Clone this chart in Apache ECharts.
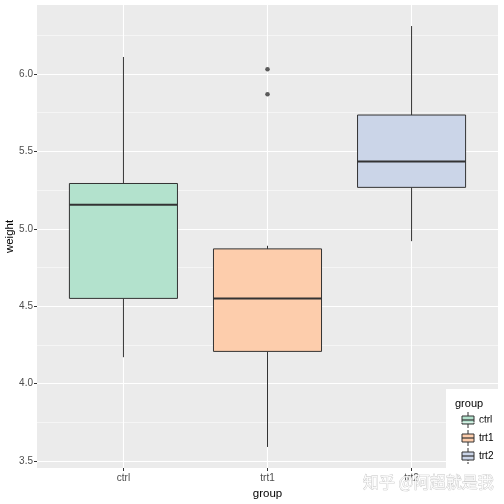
<!DOCTYPE html>
<html lang="en">
<head>
<meta charset="UTF-8">
<title>PlantGrowth weight by group</title>
<script src="https://cdn.jsdelivr.net/npm/echarts@6/dist/echarts.min.js"></script>
<style>
    html, body { margin: 0; padding: 0; background: #fff; }
    #main { width: 504px; height: 504px; }
</style>
</head>
<body>
<div id="main"></div>
<script>
// box statistics per group (PlantGrowth)
var groups = ['ctrl', 'trt1', 'trt2'];
var lowWhisker = [4.17, 3.59, 4.92];
var q1 = [4.55, 4.2075, 5.2675];
var median = [5.155, 4.55, 5.435];
var q3 = [5.2925, 4.87, 5.735];
var highWhisker = [6.11, 4.89, 6.31];
// outliers: group position + value
var outlierGroup = [2, 2];
var outlierValue = [5.87, 6.03];
var fillColors = ['#B3E2CD', '#FDCDAC', '#CBD5E8'];
var yMajor = [3.5, 4.0, 4.5, 5.0, 5.5, 6.0];
var yMinor = [3.75, 4.25, 4.75, 5.25, 5.75, 6.25];
var xTicks = [1, 2, 3];

var FONT = 'Liberation Sans, Arial, sans-serif';
var yMin = 3.454, yMax = 6.446;

var chart = echarts.init(document.getElementById('main'));

var boxData = groups.map(function (g, i) {
    return [i + 1, lowWhisker[i], q1[i], median[i], q3[i], highWhisker[i]];
});
var outlierData = outlierGroup.map(function (g, i) {
    return [g, outlierValue[i]];
});

function renderBox(params, api) {
    var x = api.value(0);
    var hw = api.size([0.75, 0])[0] / 2;
    var pLo = api.coord([x, api.value(1)]);
    var pQ1 = api.coord([x, api.value(2)]);
    var pMed = api.coord([x, api.value(3)]);
    var pQ3 = api.coord([x, api.value(4)]);
    var pHi = api.coord([x, api.value(5)]);
    var cx = pMed[0];
    return {
        type: 'group',
        children: [
            {type: 'line', shape: {x1: cx, y1: pHi[1], x2: cx, y2: pQ3[1]}, style: {stroke: '#333', lineWidth: 1}},
            {type: 'line', shape: {x1: cx, y1: pQ1[1], x2: cx, y2: pLo[1]}, style: {stroke: '#333', lineWidth: 1}},
            {type: 'rect', shape: {x: cx - hw, y: pQ3[1], width: hw * 2, height: pQ1[1] - pQ3[1]},
                style: {fill: fillColors[params.dataIndex], stroke: '#333', lineWidth: 1}},
            {type: 'line', shape: {x1: cx - hw, y1: pMed[1], x2: cx + hw, y2: pMed[1]}, style: {stroke: '#333', lineWidth: 2}}
        ]
    };
}

// legend drawn as graphic (box glyph keys)
var legendItems = [
    {type: 'rect', shape: {x: 446, y: 389, width: 58, height: 82}, style: {fill: '#fff'}},
    {type: 'text', x: 455, y: 404, style: {text: 'group', font: '11px ' + FONT, fill: '#000', verticalAlign: 'middle'}}
];
groups.forEach(function (g, i) {
    var cy = 420 + 18 * i;
    legendItems.push({type: 'line', shape: {x1: 468, y1: cy - 8, x2: 468, y2: cy + 8}, style: {stroke: '#333', lineWidth: 1}});
    legendItems.push({type: 'rect', shape: {x: 462, y: cy - 4, width: 12, height: 8}, style: {fill: fillColors[i], stroke: '#333', lineWidth: 1}});
    legendItems.push({type: 'line', shape: {x1: 462, y1: cy, x2: 474, y2: cy}, style: {stroke: '#333', lineWidth: 1.2}});
    legendItems.push({type: 'text', x: 479, y: cy, style: {text: g, font: '10px ' + FONT, fill: '#000', verticalAlign: 'middle'}});
});

var option = {
    animation: false,
    backgroundColor: '#fff',
    grid: {
        left: 37, right: 6, top: 5, bottom: 36,
        outerBoundsMode: 'none', containLabel: false,
        show: true, backgroundColor: '#EBEBEB', borderWidth: 0
    },
    xAxis: {
        type: 'value', min: 0.4, max: 3.6,
        name: 'group', nameLocation: 'middle', nameGap: 20, nameMoveOverlap: false,
        nameTextStyle: {color: '#000', fontSize: 11.5, fontFamily: FONT},
        axisLine: {show: false},
        axisTick: {show: true, length: 3, customValues: xTicks, lineStyle: {color: '#333'}},
        axisLabel: {
            customValues: xTicks, margin: 5, color: '#4D4D4D', fontSize: 10, fontFamily: FONT,
            formatter: function (v) { return groups[Math.round(v) - 1]; }
        },
        splitLine: {show: true, lineStyle: {color: '#fff', width: 1.1}}
    },
    yAxis: [{
        type: 'value', min: yMin, max: yMax,
        name: 'weight', nameLocation: 'middle', nameGap: 21, nameRotate: 90, nameMoveOverlap: false,
        nameTextStyle: {color: '#000', fontSize: 11.5, fontFamily: FONT},
        axisLine: {show: false},
        axisTick: {show: true, length: 3, customValues: yMajor, lineStyle: {color: '#333'}},
        axisLabel: {
            customValues: yMajor, margin: 4, color: '#4D4D4D', fontSize: 10, fontFamily: FONT,
            formatter: function (v) { return v.toFixed(1); }
        },
        splitLine: {show: true, lineStyle: {color: '#fff', width: 1.1}}
    }, {
        type: 'value', min: yMin, max: yMax, position: 'left',
        axisLine: {show: false},
        axisTick: {show: false, customValues: yMinor},
        axisLabel: {show: false, customValues: yMinor},
        splitLine: {show: true, lineStyle: {color: '#fff', width: 0.5}}
    }],
    series: [{
        type: 'custom',
        renderItem: renderBox,
        data: boxData,
        encode: {x: 0, y: [1, 2, 3, 4, 5]},
        z: 3
    }, {
        type: 'scatter',
        data: outlierData,
        symbolSize: 4.5,
        itemStyle: {color: '#333'},
        z: 4
    }],
    graphic: legendItems.concat([{
        type: 'text', x: 363, y: 482, z: 100,
        style: {
            text: '知乎 @阿超就是我', font: '16px "Noto Sans CJK SC"',
            fill: 'rgba(255,255,255,0.8)', stroke: '#c4c4c4', lineWidth: 0.7,
            verticalAlign: 'middle'
        }
    }])
};

chart.setOption(option);
</script>
</body>
</html>
